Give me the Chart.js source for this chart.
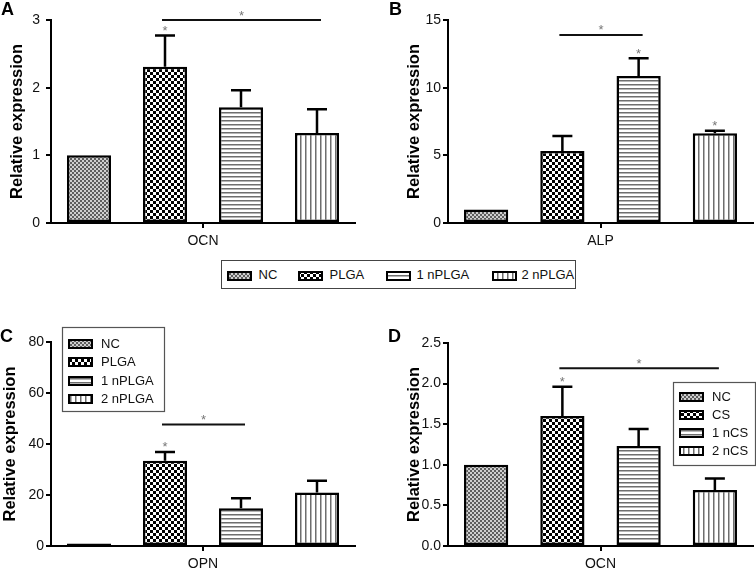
<!DOCTYPE html>
<html><head><meta charset="utf-8">
<script src="https://cdn.jsdelivr.net/npm/chart.js@4.4.1/dist/chart.umd.min.js"></script>
<style>
body{margin:0;background:#fff;width:756px;height:568px;position:relative;overflow:hidden;font-family:"Liberation Sans",Arial,sans-serif;}
canvas.c{position:absolute;}
.lbl{position:absolute;font-weight:bold;font-size:18px;line-height:18px;color:#000;}
#mleg{position:absolute;left:221px;top:260px;width:355px;height:29px;border:1.5px solid #444;box-sizing:border-box;}
#mleg canvas{position:absolute;}
#mleg span{position:absolute;font-size:13px;line-height:13px;color:#111;white-space:nowrap;}
</style></head><body>
<canvas id="cA" class="c" style="left:0;top:0" width="378" height="256"></canvas>
<canvas id="cB" class="c" style="left:378px;top:0" width="378" height="256"></canvas>
<canvas id="cC" class="c" style="left:0;top:290px" width="378" height="278"></canvas>
<canvas id="cD" class="c" style="left:378px;top:290px" width="378" height="278"></canvas>
<div class="lbl" style="left:1px;top:0">A</div>
<div class="lbl" style="left:389px;top:0">B</div>
<div class="lbl" style="left:0;top:327px">C</div>
<div class="lbl" style="left:388px;top:327px">D</div>
<div id="mleg"></div>
<script>
// ---- data ----
const seriesPLGA = ['NC', 'PLGA', '1 nPLGA', '2 nPLGA'];
const seriesCS = ['NC', 'CS', '1 nCS', '2 nCS'];
const catA = ['OCN'];
const catB = ['ALP'];
const catC = ['OPN'];
const catD = ['OCN'];
const meanA = [1.00, 2.31, 1.71, 1.33];
const sdA = [0, 0.46, 0.25, 0.35];
const meanB = [1.00, 5.32, 10.86, 6.63];
const sdB = [0, 1.11, 1.31, 0.19];
const meanC = [1.0, 33.4, 14.8, 21.0];
const sdC = [0, 3.5, 3.9, 4.6];
const meanD = [1.00, 1.60, 1.23, 0.69];
const sdD = [0, 0.36, 0.21, 0.14];
const yTicksA = [0, 1, 2, 3];
const yTicksB = [0, 5, 10, 15];
const yTicksC = [0, 20, 40, 60, 80];
const yTicksD = [0, 0.5, 1.0, 1.5, 2.0, 2.5];
const sigA = [1, 3, 3.0];   // [from series, to series, level]
const sigB = [1, 2, 13.9];
const sigC = [1, 2, 47.6];
const sigD = [1, 3, 2.19];
const starsA = [1];
const starsB = [2, 3];
const starsC = [1];
const starsD = [1];

const FONT = '"Liberation Sans", Arial, sans-serif';
Chart.defaults.font.family = FONT;
Chart.defaults.color = '#111';

// ---- patterns ----
function makePattern(type) {
  const c = document.createElement('canvas');
  const x = c.getContext('2d');
  if (type === 'nc') {
    c.width = 4; c.height = 4;
    x.fillStyle = '#cfcfcf'; x.fillRect(0, 0, 4, 4);
    x.fillStyle = '#5e5e5e'; x.fillRect(0, 0, 2, 2); x.fillRect(2, 2, 2, 2);
  } else if (type === 'checker') {
    c.width = 6; c.height = 6;
    x.fillStyle = '#fff'; x.fillRect(0, 0, 6, 6);
    x.fillStyle = '#000'; x.fillRect(0, 0, 3, 3); x.fillRect(3, 3, 3, 3);
  } else if (type === 'h') {
    c.width = 4; c.height = 4;
    x.fillStyle = '#fff'; x.fillRect(0, 0, 4, 4);
    x.fillStyle = '#6e6e6e'; x.fillRect(0, 0, 4, 1);
    x.fillStyle = '#b5b5b5'; x.fillRect(0, 1, 4, 1);
  } else {
    c.width = 5; c.height = 4;
    x.fillStyle = '#fff'; x.fillRect(0, 0, 5, 4);
    x.fillStyle = '#6e6e6e'; x.fillRect(0, 0, 1, 4);
    x.fillStyle = '#b5b5b5'; x.fillRect(1, 0, 1, 4);
  }
  return document.createElement('canvas').getContext('2d').createPattern(c, 'repeat');
}
const patterns = [makePattern('nc'), makePattern('checker'), makePattern('h'), makePattern('v')];

function drawSwatch(ctx, x, y, w, h, pat) {
  ctx.save();
  ctx.fillStyle = pat; ctx.fillRect(x, y, w, h);
  ctx.strokeStyle = '#000'; ctx.lineWidth = 2;
  ctx.strokeRect(x + 1, y + 1, w - 2, h - 2);
  ctx.restore();
}

// ---- plugins ----
const errorBarPlugin = {
  id: 'errorBars',
  afterDatasetsDraw(chart) {
    const ctx = chart.ctx, ys = chart.scales.y;
    ctx.save();
    ctx.strokeStyle = '#000'; ctx.lineWidth = 2.5;
    chart.data.datasets.forEach((ds, i) => {
      chart.getDatasetMeta(i).data.forEach((bar, j) => {
        const sd = ds.err[j];
        if (!sd) return;
        const top = ys.getPixelForValue(ds.data[j] + sd);
        ctx.beginPath();
        ctx.moveTo(bar.x, bar.y); ctx.lineTo(bar.x, top);
        ctx.moveTo(bar.x - 10, top); ctx.lineTo(bar.x + 10, top);
        ctx.stroke();
      });
    });
    ctx.restore();
  }
};

function drawStar(ctx, x, cy) {
  ctx.save();
  ctx.font = '13px ' + FONT;
  ctx.fillStyle = '#777';
  ctx.textAlign = 'center';
  ctx.textBaseline = 'alphabetic';
  ctx.fillText('*', x, cy + 7.5);
  ctx.restore();
}

const sigPlugin = {
  id: 'sig',
  afterDraw(chart, args, opts) {
    if (!opts || !opts.line) return;
    const ctx = chart.ctx, ys = chart.scales.y;
    const [a, b, v] = opts.line;
    const xa = chart.getDatasetMeta(a).data[0].x - 3;
    const xb = chart.getDatasetMeta(b).data[0].x + 4;
    const py = ys.getPixelForValue(v);
    ctx.save();
    ctx.strokeStyle = '#111'; ctx.lineWidth = 2;
    ctx.beginPath(); ctx.moveTo(xa, py); ctx.lineTo(xb, py); ctx.stroke();
    ctx.restore();
    drawStar(ctx, (xa + xb) / 2, py - 8);
    (opts.stars || []).forEach(i => {
      const ds = chart.data.datasets[i];
      const bar = chart.getDatasetMeta(i).data[0];
      const top = ys.getPixelForValue(ds.data[0] + (ds.err[0] || 0));
      drawStar(ctx, bar.x, top - 8);
    });
  }
};

const boxLegendPlugin = {
  id: 'boxLegend',
  afterDraw(chart, args, opts) {
    if (!opts || !opts.display) return;
    const ctx = chart.ctx;
    ctx.save();
    ctx.strokeStyle = '#555'; ctx.lineWidth = 1.2;
    ctx.strokeRect(opts.x + 0.5, opts.y + 0.5, opts.w, opts.h);
    chart.data.datasets.forEach((ds, i) => {
      const cy = opts.row0 + i * opts.step;
      drawSwatch(ctx, opts.x + 6, Math.round(cy - 5), 25, 10, ds.backgroundColor);
      ctx.fillStyle = '#111';
      ctx.font = '13px ' + FONT;
      ctx.textBaseline = 'middle';
      ctx.textAlign = 'left';
      ctx.fillText(ds.label, opts.x + 39, cy + 0.5);
    });
    ctx.restore();
  }
};

function makeChart(id, cats, series, means, sds, yTicks, sig, stars, pad, look, legend, fmt) {
  const datasets = series.map((name, i) => ({
    label: name,
    data: [means[i]],
    err: [sds[i]],
    backgroundColor: patterns[i],
    borderColor: '#000',
    borderWidth: 2.5,
    borderSkipped: false,
    categoryPercentage: 1.0,
    barPercentage: 0.58
  }));
  return new Chart(document.getElementById(id), {
    type: 'bar',
    data: { labels: cats, datasets },
    plugins: [errorBarPlugin, sigPlugin, boxLegendPlugin],
    options: {
      responsive: false,
      animation: false,
      layout: { padding: pad },
      plugins: {
        legend: { display: false },
        tooltip: { enabled: false },
        sig: { line: sig, stars: stars },
        boxLegend: legend || { display: false }
      },
      scales: {
        x: {
          ticks: { color: '#111', font: { size: 14 }, padding: 5 },
          grid: { offset: false, drawOnChartArea: false, drawTicks: true, tickLength: 5, color: '#000', lineWidth: 2 },
          border: { display: true, color: '#000', width: 2 },
          afterFit: s => { s.height = look.xh; }
        },
        y: {
          min: yTicks[0],
          max: yTicks[yTicks.length - 1],
          ticks: {
            stepSize: yTicks[1] - yTicks[0],
            color: '#111', font: { size: 14 }, padding: look.tp,
            callback: v => fmt ? v.toFixed(fmt) : v
          },
          grid: { drawOnChartArea: false, drawTicks: true, tickLength: 5, color: '#000', lineWidth: 2 },
          border: { display: true, color: '#000', width: 2 },
          title: { display: true, text: 'Relative expression', color: '#000', font: { size: 16.5, weight: 'bold' }, padding: { top: look.ttp, bottom: 0 } },
          afterFit: s => { s.width = 51; }
        }
      }
    }
  });
}

makeChart('cA', catA, seriesPLGA, meanA, sdA, yTicksA, sigA, starsA,
  { left: 0, right: 23, top: 20, bottom: 1 }, { xh: 32, tp: 6, ttp: 8 });
makeChart('cB', catB, seriesPLGA, meanB, sdB, yTicksB, sigB, starsB,
  { left: 19, right: 3, top: 20, bottom: 1 }, { xh: 32, tp: 2, ttp: 8 });
makeChart('cC', catC, seriesPLGA, meanC, sdC, yTicksC, sigC, starsC,
  { left: 0, right: 23, top: 52, bottom: 0 }, { xh: 22, tp: 2, ttp: 1 },
  { display: true, x: 62, y: 37, w: 102, h: 84, row0: 53.5, step: 18.5 });
makeChart('cD', catD, seriesCS, meanD, sdD, yTicksD, sigD, starsD,
  { left: 19, right: 3, top: 53, bottom: 0 }, { xh: 22, tp: 2, ttp: 8 },
  { display: true, x: 295, y: 92, w: 82, h: 83, row0: 106.7, step: 18 }, 1);

// ---- shared legend between rows ----
const mlegSwatchX = [227, 298, 386, 492];
const mlegTextX = [259, 330, 417, 522];
const mleg = document.getElementById('mleg');
seriesPLGA.forEach((name, i) => {
  const cv = document.createElement('canvas');
  cv.width = 25; cv.height = 10;
  cv.style.left = (mlegSwatchX[i] - 222.5) + 'px';
  cv.style.top = (271 - 261.5) + 'px';
  drawSwatch(cv.getContext('2d'), 0, 0, 25, 10, patterns[i]);
  mleg.appendChild(cv);
  const sp = document.createElement('span');
  sp.textContent = name;
  sp.style.left = (mlegTextX[i] - 222.5) + 'px';
  sp.style.top = (275 - 6.4 - 261.5) + 'px';
  mleg.appendChild(sp);
});
</script>
</body></html>
